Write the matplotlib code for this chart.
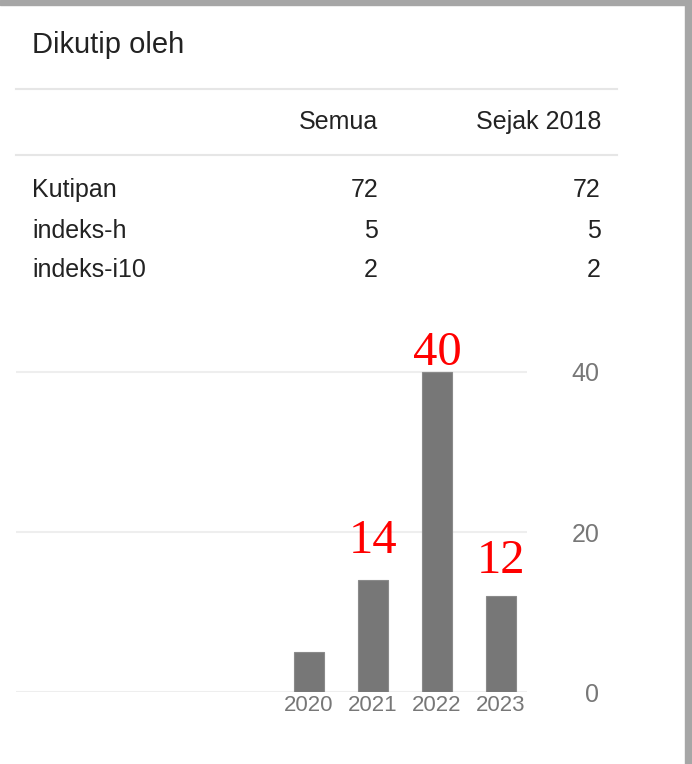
import matplotlib.pyplot as plt
from matplotlib.patches import Rectangle

W, H = 692, 764

years = ["2020", "2021", "2022", "2023"]
cites = [5, 14, 40, 12]
y_ticks = [0, 20, 40]
annotated = {"2021": "14", "2022": "40", "2023": "12"}
# hand-placed labels sit at different heights above the bars (px)
note_gap = {"2021": 27, "2022": 7, "2023": 23}

row_names = ["Kutipan", "indeks-h", "indeks-i10"]
all_vals = ["72", "5", "2"]
since_vals = ["72", "5", "2"]
col_heads = ["Semua", "Sejak 2018"]


def fx(px):
    return px / W


def fy(py):
    return 1 - py / H


fig = plt.figure(figsize=(W / 100, H / 100), dpi=100)
fig.patch.set_facecolor("white")

# window frame bits around the screenshot
fig.patches.append(Rectangle((0, fy(5)), 1, 5 / H, transform=fig.transFigure,
                             color="#a6a6a6", zorder=0))
fig.patches.append(Rectangle((fx(685), 0), 7 / W, 1, transform=fig.transFigure,
                             color="#a6a6a6", zorder=0))

sans = "Liberation Sans"
dark = "#222222"
fs = 18

fig.text(fx(32), fy(45), "Dikutip oleh", fontsize=21, color=dark,
         family=sans, va="center", ha="left")

for yy in (89, 155):
    fig.add_artist(plt.Line2D([fx(16), fx(617)], [fy(yy), fy(yy)],
                              color="#e6e6e6", lw=1.5, transform=fig.transFigure))

fig.text(fx(378), fy(122), col_heads[0], fontsize=fs, color=dark,
         family=sans, va="center", ha="right")
fig.text(fx(601), fy(122), col_heads[1], fontsize=fs, color=dark,
         family=sans, va="center", ha="right")

row_y = [190, 231, 270]
for name, a, s, yy in zip(row_names, all_vals, since_vals, row_y):
    fig.text(fx(32), fy(yy), name, fontsize=fs, color=dark, family=sans,
             va="center", ha="left")
    fig.text(fx(378), fy(yy), a, fontsize=fs, color=dark, family=sans,
             va="center", ha="right")
    fig.text(fx(601), fy(yy), s, fontsize=fs, color=dark, family=sans,
             va="center", ha="right")

# bar chart
ax = fig.add_axes([fx(16), 1 - 692 / H, (527 - 16) / W, (692 - 324) / H])
x = list(range(len(years)))
ax.bar(x, cites, width=30 / 64, color="#777777", edgecolor="#8a8a8a",
       lw=0.8, zorder=3)
ax.set_xlim((16 - 309) / 64, (527 - 309) / 64)
ax.set_ylim(0, 46)
for s in ax.spines.values():
    s.set_visible(False)
ax.set_yticks(y_ticks)
ax.yaxis.grid(True, color="#eeeeee", lw=1.5, zorder=0)
ax.yaxis.tick_right()
ax.tick_params(axis="y", length=0, pad=52, labelsize=18, labelcolor="#777777")
for lab in ax.get_yticklabels():
    lab.set_horizontalalignment("right")
    lab.set_family(sans)
ax.set_xticks(x)
ax.set_xticklabels(years, family=sans)
ax.tick_params(axis="x", length=0, pad=2, labelsize=16, labelcolor="#777777")

for i, yr in enumerate(years):
    if yr in annotated:
        ax.annotate(annotated[yr], (i, cites[i]),
                    xytext=(0, note_gap[yr] * 0.72),
                    textcoords="offset points", ha="center", va="baseline",
                    color="red", fontsize=35, family="Liberation Serif")

fig.savefig("out.png", dpi=100)
